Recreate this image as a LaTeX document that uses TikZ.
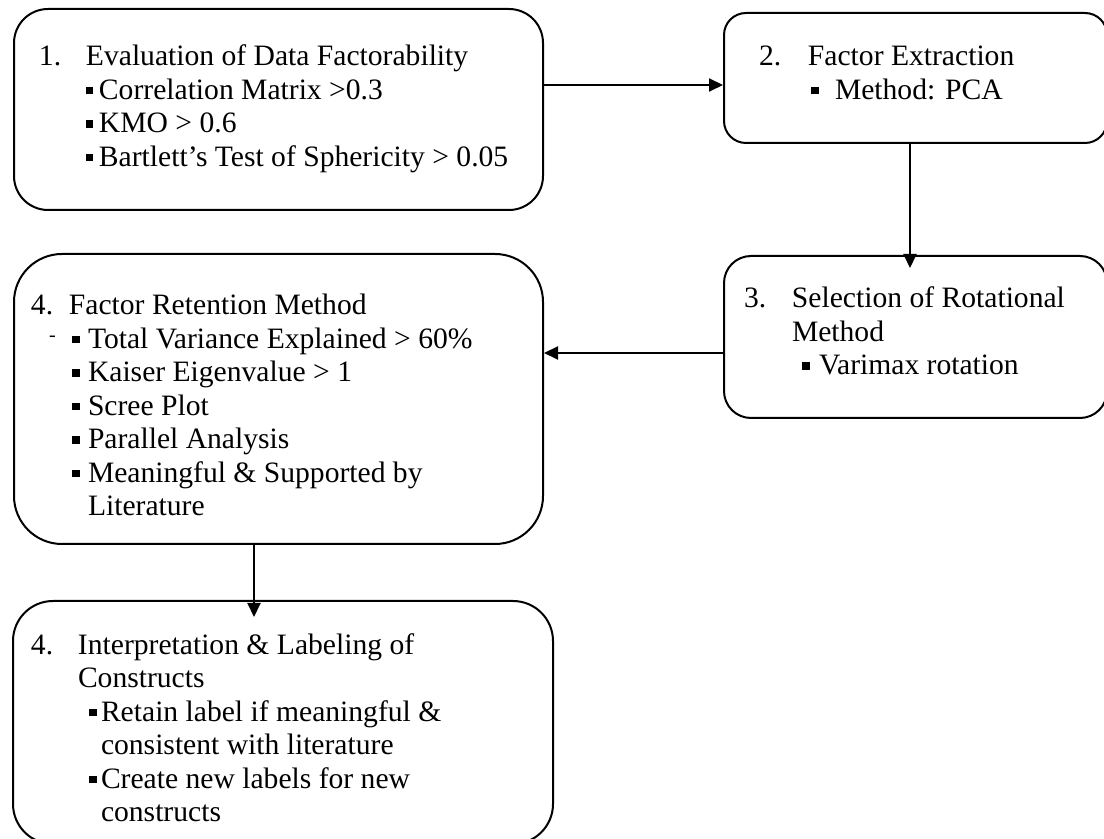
\documentclass[tikz,border=0pt]{standalone}
\usepackage{fontspec}
\setmainfont{Liberation Serif}
\usepackage{tikz}
\usetikzlibrary{arrows.meta}

\newlength{\px}
\setlength{\px}{0.5pt}
\newcommand{\sqbul}{\rule[5\px]{7.5\px}{7.5\px}}
% #1 width, #2 height, #3 first baseline, #4 lines (all in px)
\newcommand{\boxtext}[4]{\parbox[c][#2\px][t]{#1\px}{\rule{0pt}{#3\px}#4}}
\newcommand{\stepnum}[4]{\hspace*{#1\px}\makebox[\dimexpr\px*(#2-#1)\relax][l]{#3}#4}
\newcommand{\critem}[3]{\hspace*{#1\px}\makebox[\dimexpr\px*(#2-#1)\relax][l]{\sqbul}#3}
\newcommand{\more}[2]{\hspace*{#1\px}#2}

\tikzset{
  stepbox/.style={draw, line width=1pt, inner sep=0pt, anchor=north west,
                  font=\fontsize{14.8}{16.75}\selectfont},
  flow/.style={->, line width=1pt, >={Triangle[length=7pt,width=6.5pt]}},
}

\begin{document}
\begin{tikzpicture}[x=0.5pt, y=-0.5pt]
  \useasboundingbox (0,0) rectangle (1104,839);
  \clip (0,0) rectangle (1104,839);

  \node[stepbox, rounded corners=17pt] (eval) at (13,8) {\boxtext{529}{201}{57}{%
    \stepnum{25}{72}{1.}{Evaluation of Data Factorability}\\
    \critem{72}{85}{Correlation Matrix >0.3}\\
    \critem{72}{85}{KMO > 0.6}\\
    \critem{72}{85}{Bartlett's Test of Sphericity > 0.05}}};
  \node[stepbox, rounded corners=11pt] (ext) at (723,12) {\boxtext{383}{130}{53}{%
    \stepnum{35}{84}{2.}{Factor Extraction}\\
    \critem{87}{111}{Method: PCA}}};
  \node[stepbox, rounded corners=13.5pt] (rot) at (723,255) {\boxtext{383}{162}{52}{%
    \stepnum{20}{68}{3.}{Selection of Rotational}\\
    \more{68}{Method}\\
    \critem{78}{95}{Varimax rotation}}};
  \node[stepbox, rounded corners=24pt] (ret) at (13,253) {\boxtext{529}{290}{61}{%
    \stepnum{17}{55}{4.}{Factor Retention Method}\\
    \hspace*{35\px}\makebox[23\px][l]{\raisebox{7\px}{\fontsize{10}{10}\selectfont -}}%
      \makebox[16\px][l]{\sqbul}Total Variance Explained > 60\%\\
    \critem{58}{74}{Kaiser Eigenvalue > 1}\\
    \critem{58}{74}{Scree Plot}\\
    \critem{58}{74}{Parallel Analysis}\\
    \critem{58}{74}{Meaningful \& Supported by}\\
    \more{74}{Literature}}};
  \node[stepbox, rounded corners=20pt] (lab) at (12,600) {\boxtext{540}{243}{53}{%
    \stepnum{18}{65}{4.}{Interpretation \& Labeling of}\\
    \more{65}{Constructs}\\
    \critem{76}{88}{Retain label if meaningful \&}\\
    \more{88}{consistent with literature}\\
    \critem{76}{88}{Create new labels for new}\\
    \more{88}{constructs}}};

  \draw[flow] ([yshift=12.25pt]eval.east) -- ([yshift=-3.5pt]ext.west);
  \draw[flow, shorten >=-6.5pt] ([xshift=-2.75pt]ext.south) -- ([xshift=-2.75pt]rot.north);
  \draw[flow] ([yshift=-8pt]rot.west) -- ([yshift=23pt]ret.east);
  \draw[flow, shorten >=-8.5pt] ([xshift=-12.25pt]ret.south) -- ([xshift=-14.5pt]lab.north);
\end{tikzpicture}
\end{document}
